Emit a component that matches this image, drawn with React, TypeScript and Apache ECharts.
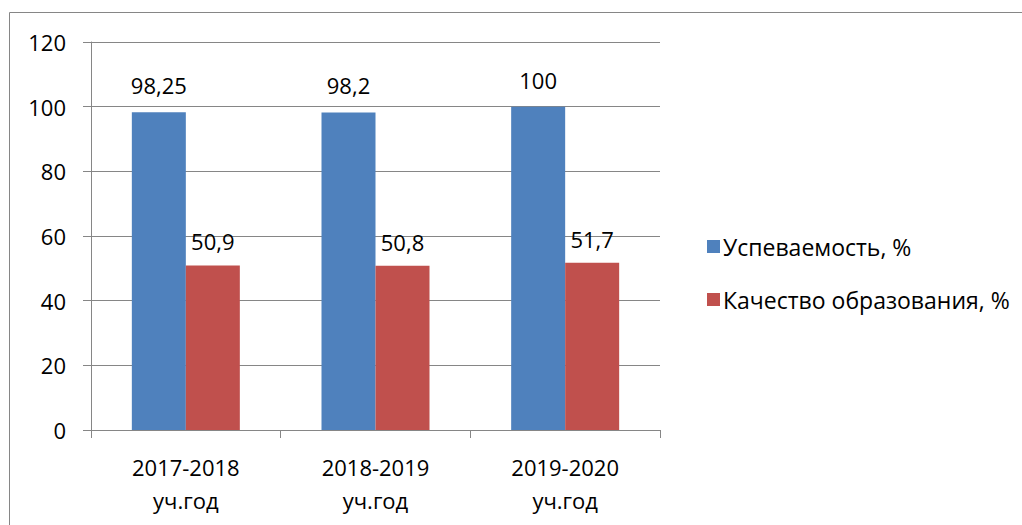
import React, { useEffect, useRef } from "react";
import * as echarts from "echarts";

const categories = ["2017-2018\nуч.год", "2018-2019\nуч.год", "2019-2020\nуч.год"];
const seriesNames = ["Успеваемость, %", "Качество образования, %"];
const progress = [98.25, 98.2, 100];
const quality = [50.9, 50.8, 51.7];

const FONT = "'Open Sans', 'Liberation Sans', Arial, sans-serif";
const FS = 22;

export default function App() {
  const ref = useRef<HTMLDivElement>(null);
  useEffect(() => {
    document.body.style.margin = "0";
    const chart = echarts.init(ref.current!, null, { renderer: "svg" });
    const fmt = (p: any) => String(p.value).replace(".", ",");
    chart.setOption({
      animation: false,
      textStyle: { fontFamily: FONT },
      graphic: [
        {
          type: "rect",
          shape: { x: 9.5, y: 12.5, width: 1100, height: 600 },
          style: { fill: "none", stroke: "#868686", lineWidth: 1 },
          silent: true,
        },
      ],
      grid: { left: 91, top: 42, right: 362, bottom: 95 },
      legend: {
        orient: "vertical",
        left: 702,
        top: 230,
        itemWidth: 13,
        itemHeight: 13,
        itemGap: 30,
        icon: "rect",
        textStyle: { fontSize: 23, color: "#000", fontFamily: FONT, padding: [0, 0, 0, -2] },
        data: seriesNames,
      },
      xAxis: {
        type: "category",
        data: categories,
        axisLine: { lineStyle: { color: "#868686" } },
        axisTick: { show: true, length: 8, lineStyle: { color: "#868686" } },
        axisLabel: { fontSize: FS, color: "#000", lineHeight: 33, margin: 20, fontFamily: FONT },
      },
      yAxis: {
        type: "value",
        min: 0,
        max: 120,
        interval: 20,
        axisLine: { show: true, lineStyle: { color: "#868686" } },
        axisTick: { show: true, length: 8, lineStyle: { color: "#868686" } },
        splitLine: { lineStyle: { color: "#868686" } },
        axisLabel: { fontSize: FS, color: "#000", margin: 25, fontFamily: FONT },
      },
      series: [
        {
          name: seriesNames[0],
          type: "bar",
          data: progress,
          barWidth: 54,
          barGap: "0%",
          itemStyle: { color: "#4F81BD" },
          label: { show: true, position: "top", distance: 16, fontSize: FS, color: "#000", fontFamily: FONT, formatter: fmt },
        },
        {
          name: seriesNames[1],
          type: "bar",
          data: quality,
          barWidth: 54,
          barGap: "0%",
          itemStyle: { color: "#C0504D" },
          label: { show: true, position: "top", distance: 13, fontSize: FS, color: "#000", fontFamily: FONT, formatter: fmt },
        },
      ],
    });
    return () => chart.dispose();
  }, []);
  return <div ref={ref} style={{ width: 1022, height: 525 }} />;
}
